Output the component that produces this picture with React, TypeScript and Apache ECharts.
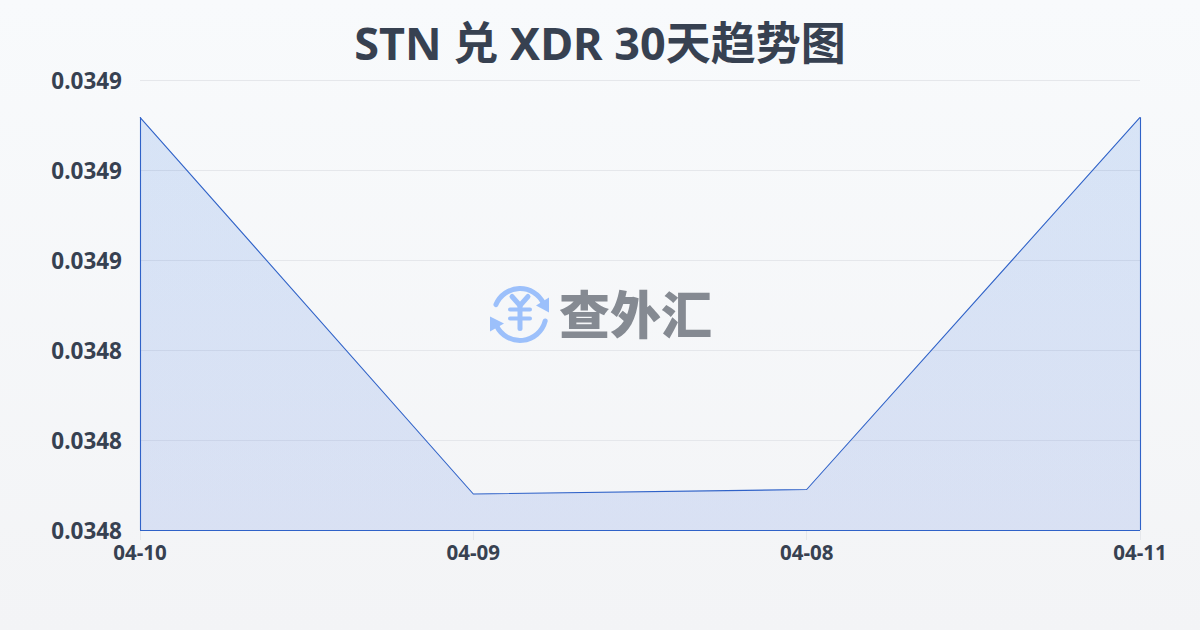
import React, { useEffect, useRef } from "react";
import * as echarts from "echarts";

const categories = ["04-10", "04-09", "04-08", "04-11"];
const values = [0.0348917, 0.034808, 0.034809, 0.0348917];
const axisMin = 0.0348;
const axisMax = 0.0349;
const axisStep = 0.00002;
const titleText = "STN 兑 XDR 30天趋势图";
const brandText = "查外汇";
const FONT = '"Noto Sans", "Noto Sans CJK SC", sans-serif';
const BRAND_FONT = '"Noto Sans CJK SC", sans-serif';

const blue = "#2f62c8";

export default function App() {
  const ref = useRef<HTMLDivElement>(null);
  useEffect(() => {
    const chart = echarts.init(ref.current!, null, { renderer: "svg" });
    const logo = "#9cc0fb";
    chart.setOption({
      animation: false,
      backgroundColor: {
        type: "linear", x: 0, y: 0, x2: 0, y2: 1,
        colorStops: [{ offset: 0, color: "#f8fafc" }, { offset: 1, color: "#f3f4f6" }],
      },
      title: {
        text: titleText, left: "center", top: 15,
        textStyle: { fontFamily: FONT, fontSize: 45, fontWeight: "bold", color: "#374151" },
      },
      grid: { left: 140, right: 60, top: 80, bottom: 100 },
      xAxis: {
        type: "category", data: categories, boundaryGap: false,
        axisLine: { show: false },
        axisTick: { show: true, length: 10, lineStyle: { color: "#e5e7eb", width: 1 } },
        splitLine: { show: false },
        axisLabel: { fontFamily: FONT, fontSize: 20.5, fontWeight: "bold", color: "#374151", margin: 12, interval: 0 },
      },
      yAxis: {
        type: "value", min: axisMin, max: axisMax, interval: axisStep,
        axisLine: { show: false },
        axisTick: { show: false },
        splitLine: { lineStyle: { color: "#e5e7eb", width: 1 } },
        axisLabel: {
          fontFamily: FONT, fontSize: 22.5, fontWeight: "bold", color: "#374151", margin: 18,
          padding: [0, 0, 7, 0],
          formatter: (v: number) => v.toFixed(4),
        },
      },
      series: [
        {
          type: "line", data: values, symbol: "none", smooth: false,
          lineStyle: { color: blue, width: 1.1 },
          areaStyle: {
            color: {
              type: "linear", x: 0, y: 0, x2: 0, y2: 1,
              colorStops: [{ offset: 0, color: "rgba(37,110,220,0.15)" }, { offset: 1, color: "rgba(37,90,220,0.13)" }],
            },
            opacity: 1,
          },
          markLine: {
            silent: true, symbol: "none", label: { show: false },
            lineStyle: { color: blue, width: 1.1, type: "solid" },
            data: [
              [{ coord: [categories[0], axisMin] }, { coord: [categories[0], values[0]] }],
              [{ coord: [categories[3], axisMin] }, { coord: [categories[3], values[3]] }],
              [{ coord: [categories[0], axisMin] }, { coord: [categories[3], axisMin] }],
            ],
          },
        },
      ],
      graphic: [
        {
          type: "group", left: 490, top: 286, silent: true,
          children: [
            { type: "arc", shape: { cx: 30, cy: 29, r: 26, startAngle: -2.75, endAngle: -0.45 }, style: { stroke: logo, lineWidth: 5, fill: "none", lineCap: "round" } },
            { type: "arc", shape: { cx: 30, cy: 29, r: 26, startAngle: 0.25, endAngle: 2.7 }, style: { stroke: logo, lineWidth: 5, fill: "none", lineCap: "round" } },
            { type: "polygon", shape: { points: [[46, 20], [59, 12], [59, 27]] }, style: { fill: logo } },
            { type: "polygon", shape: { points: [[0, 31], [14, 38], [0, 46]] }, style: { fill: logo } },
            { type: "line", shape: { x1: 22, y1: 11, x2: 30, y2: 20 }, style: { stroke: logo, lineWidth: 5, lineCap: "round" } },
            { type: "line", shape: { x1: 38, y1: 11, x2: 30, y2: 20 }, style: { stroke: logo, lineWidth: 5, lineCap: "round" } },
            { type: "line", shape: { x1: 30, y1: 20, x2: 30, y2: 43 }, style: { stroke: logo, lineWidth: 5, lineCap: "round" } },
            { type: "line", shape: { x1: 20, y1: 24, x2: 40, y2: 24 }, style: { stroke: logo, lineWidth: 4, lineCap: "round" } },
            { type: "line", shape: { x1: 20, y1: 33, x2: 40, y2: 33 }, style: { stroke: logo, lineWidth: 4, lineCap: "round" } },
          ],
        },
        {
          type: "text", left: 559, top: 286, silent: true,
          style: { text: brandText, fontFamily: BRAND_FONT, fontSize: 51, fontWeight: 900, fill: "#858a92" },
        },
      ],
    });
    return () => chart.dispose();
  }, []);
  return <div ref={ref} style={{ position: "fixed", left: 0, top: 0, width: 1200, height: 630 }} />;
}
